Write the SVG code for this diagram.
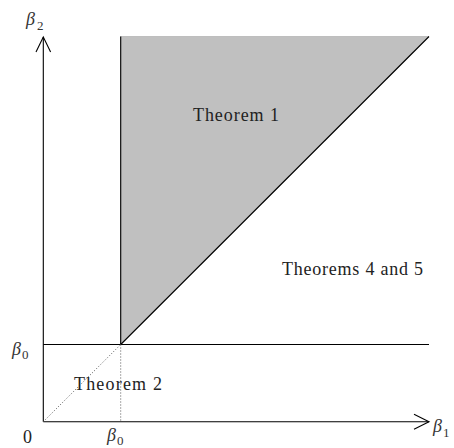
<svg xmlns="http://www.w3.org/2000/svg" width="454" height="448" viewBox="0 0 454 448">
<style>
.ln{stroke:#000;stroke-width:1.1;fill:none}
.dot{stroke:#555;stroke-width:1;stroke-dasharray:1 2;fill:none}
.t{font-family:'Liberation Serif','DejaVu Serif',serif;font-size:18px;fill:#222}
.m{font-family:'Liberation Serif','DejaVu Serif',serif;font-style:italic;font-size:18px;fill:#333}
.s{font-family:'Liberation Serif','DejaVu Serif',serif;font-size:13px;fill:#333}
</style>
<rect width="454" height="448" fill="#fff"/>
<g id="region-theorem1">
<polygon points="120.7,36.5 429,36.5 120.7,344.5" fill="#c0c0c0" stroke="#a8a8a8" stroke-width="0.6"/>
<text class="t" x="193" y="121" textLength="86">Theorem 1</text>
</g>
<g id="connectors">
<line class="ln" x1="43.3" y1="421.7" x2="43.3" y2="37"/>
<polyline class="ln" points="36,52 43.3,37 50.6,52"/>
<line class="ln" x1="43.3" y1="421.7" x2="429" y2="421.7"/>
<polyline class="ln" points="414,414.2 429,421.7 414,429.2"/>
<line class="ln" x1="120.7" y1="36.5" x2="120.7" y2="344.5"/>
<line class="ln" x1="120.7" y1="344.5" x2="429" y2="36.5"/>
<line class="ln" x1="43.3" y1="344.5" x2="429" y2="344.5"/>
<line class="dot" x1="43.3" y1="421.7" x2="120.7" y2="344.5"/>
<line class="dot" x1="120.7" y1="344.5" x2="120.7" y2="421.7"/>
</g>
<g id="region-theorems45">
<text class="t" x="282" y="275" textLength="141">Theorems 4 and 5</text>
</g>
<g id="region-theorem2">
<text class="t" x="74" y="390" textLength="88">Theorem 2</text>
</g>
<g id="labels">
<text class="m" x="26" y="25">β</text><text class="s" x="37" y="30">2</text>
<text class="m" x="12" y="355">β</text><text class="s" x="22" y="359">0</text>
<text class="t" x="23" y="443">0</text>
<text class="m" x="107" y="441">β</text><text class="s" x="117" y="444.5">0</text>
<text class="m" x="433" y="432">β</text><text class="s" x="443" y="437">1</text>
</g>
</svg>
